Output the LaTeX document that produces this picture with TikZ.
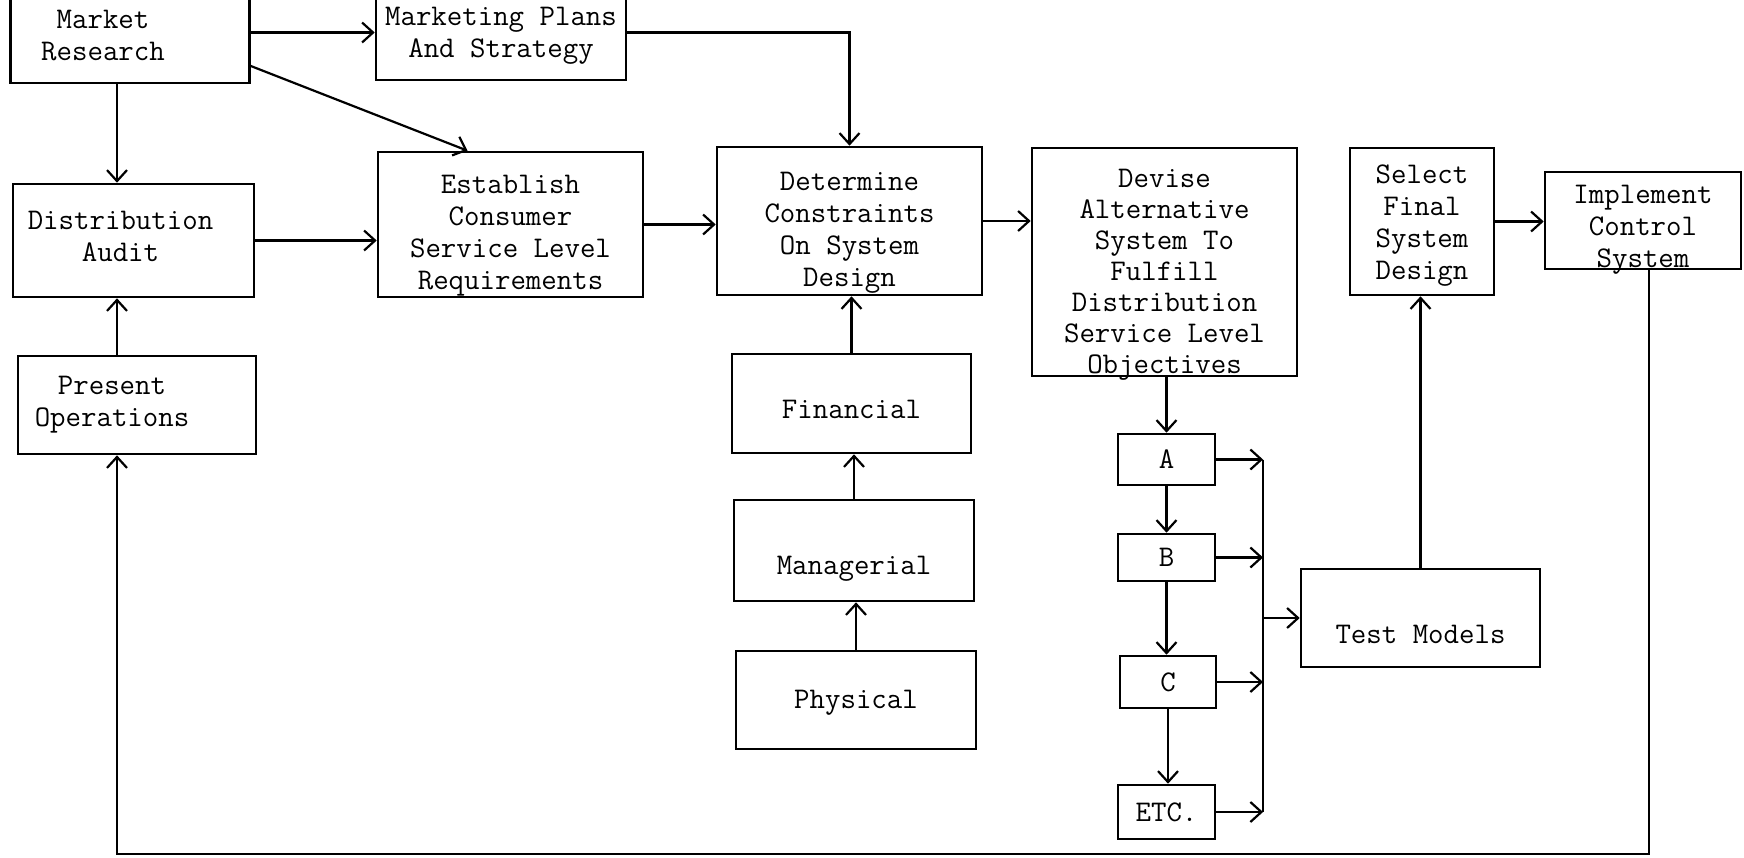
\documentclass[tikz,border=0pt]{standalone}
\usepackage{fontspec}
\usetikzlibrary{arrows.meta}
\tikzstyle{block}=[rectangle, draw, line width=2.6pt, align=center, inner sep=0pt, font=\ttfamily\fontsize{30}{32}\selectfont]
\tikzstyle{txt}=[align=center, inner sep=0pt, font=\ttfamily\fontsize{30}{32}\selectfont]
\tikzstyle{link}=[line width=2.2pt]

\begin{document}
\begin{tikzpicture}[x=1pt, y=-1pt, >={Straight Barb[length=11pt,width=20pt]}]
\useasboundingbox (0,0) rectangle (1744,857);
% left column
\draw (130,34) node[block, minimum width=239pt, minimum height=98pt] (MR) {};
\draw ([shift={(-27,2)}]MR.center) node[txt] (MR-t) {Market\\Research};
\draw (501,32.5) node[block, minimum width=250pt, minimum height=95pt] (MP) {};
\draw ([shift={(0,3)}]MP.center) node[txt] (MP-t) {Marketing Plans\\And Strategy};
\draw (133.5,240.5) node[block, minimum width=241pt, minimum height=113pt] (DA) {};
\draw ([shift={(-13,-4)}]DA.center) node[txt] (DA-t) {Distribution\\Audit};
\draw (137,405) node[block, minimum width=238pt, minimum height=98pt] (PO) {};
\draw ([shift={(-25,0)}]PO.center) node[txt] (PO-t) {Present\\Operations};
% main row
\draw (510.5,224.5) node[block, minimum width=265pt, minimum height=145pt] (ES) {};
\draw ([shift={(0,11)}]ES.center) node[txt] (ES-t) {Establish\\Consumer\\Service Level\\Requirements};
\draw (849.5,221) node[block, minimum width=265pt, minimum height=148pt] (DC) {};
\draw ([shift={(0,12)}]DC.center) node[txt] (DC-t) {Determine\\Constraints\\On System\\Design};
\draw (1164.5,262) node[block, minimum width=265pt, minimum height=228pt] (DV) {};
\draw ([shift={(0,13)}]DV.center) node[txt, font=\ttfamily\fontsize{30}{31}\selectfont] (DV-t) {Devise\\Alternative\\System To\\Fulfill\\Distribution\\Service Level\\Objectives};
\draw (1422,221.5) node[block, minimum width=144pt, minimum height=147pt] (SF) {};
\draw ([shift={(0,4)}]SF.center) node[txt] (SF-t) {Select\\Final\\System\\Design};
\draw (1643,220.5) node[block, minimum width=196pt, minimum height=97pt] (IC) {};
\draw ([shift={(0,9)}]IC.center) node[txt] (IC-t) {Implement\\Control\\System};
% constraints
\draw (851.5,403.5) node[block, minimum width=239pt, minimum height=99pt] (FI) {};
\draw ([shift={(0,6)}]FI.center) node[txt] (FI-t) {Financial};
\draw (854,550.5) node[block, minimum width=240pt, minimum height=101pt] (MG) {};
\draw ([shift={(0,18)}]MG.center) node[txt] (MG-t) {Managerial};
\draw (856,700) node[block, minimum width=240pt, minimum height=98pt] (PH) {};
\draw ([shift={(0,3)}]PH.center) node[txt] (PH-t) {Physical};
% alternatives
\draw (1166.5,459.5) node[block, minimum width=97pt, minimum height=51pt] (A) {A};
\draw (1166.5,557.5) node[block, minimum width=97pt, minimum height=47pt] (B) {B};
\draw (1168,682) node[block, minimum width=96pt, minimum height=52pt] (C) {C};
\draw (1166.5,812) node[block, minimum width=97pt, minimum height=54pt] (ETC) {ETC.};
\draw (1420.5,618) node[block, minimum width=239pt, minimum height=98pt] (TM) {};
\draw ([shift={(0,16)}]TM.center) node[txt] (TM-t) {Test Models};

\coordinate (lx) at (117,0);
\coordinate (bus) at (1263,0);
\coordinate (fbl) at (117,854);

\draw[link, ->] (MR.east |- MP.west) -- (MP.west);
\draw[link, ->] (MP.east) -| (DC.north);
\draw[link, ->] ([yshift=-32pt]MR.east) -- ([xshift=-43pt]ES.north);
\draw[link, ->] (MR.south -| lx) -- (DA.north -| lx);
\draw[link, ->] (PO.north -| lx) -- (DA.south -| lx);
\draw[link, ->] (DA.east) -- (DA.east -| ES.west);
\draw[link, ->] (ES.east) -- (ES.east -| DC.west);
\draw[link, ->] (DC.east) -- (DC.east -| DV.west);
\draw[link, ->] (SF.east) -- (SF.east -| IC.west);
\draw[link, ->] (PH.north) -- (PH.north |- MG.south);
\draw[link, ->] (MG.north) -- (MG.north |- FI.south);
\draw[link, ->] (FI.north) -- (FI.north |- DC.south);
\draw[link, ->] (DV.south -| A.north) -- (A.north);
\draw[link, ->] (A.south) -- (B.north);
\draw[link, ->] (B.south) -- (B.south |- C.north);
\draw[link, ->] (C.south) -- (C.south |- ETC.north);
\draw[link, ->] (A.east) -- (A.east -| bus);
\draw[link, ->] (B.east) -- (B.east -| bus);
\draw[link, ->] (C.east) -- (C.east -| bus);
\draw[link, ->] (ETC.east) -- (ETC.east -| bus);
\draw[link] (A.east -| bus) -- (ETC.east -| bus);
\draw[link, ->] (TM.west -| bus) -- (TM.west);
\draw[link, ->] (TM.north) -- (TM.north |- SF.south);
\draw[link, ->] ([xshift=6pt]IC.south) |- (fbl) -- (PO.south -| fbl);
\end{tikzpicture}
\end{document}
